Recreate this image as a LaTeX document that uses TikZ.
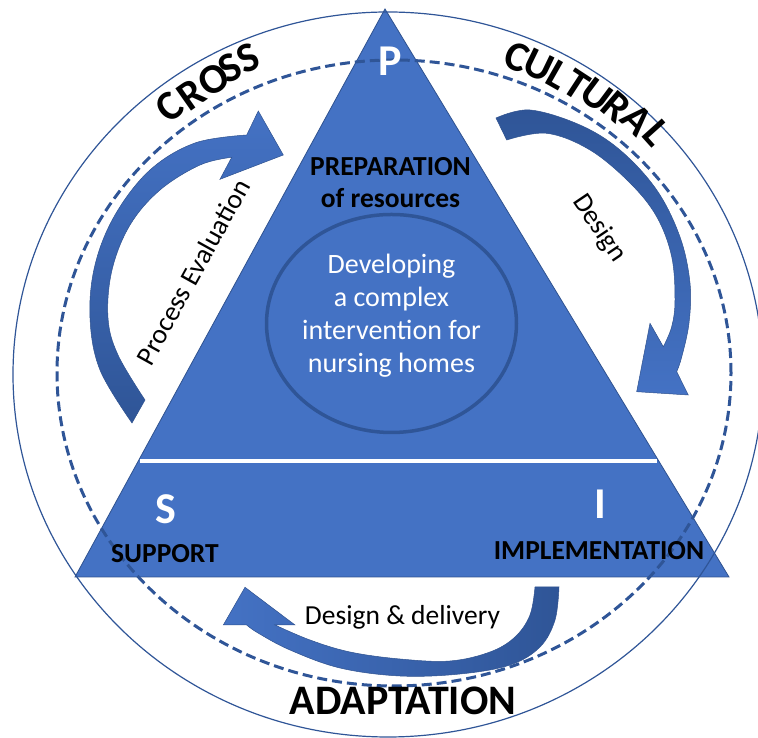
\documentclass[tikz,border=0pt]{standalone}
\usepackage{fontspec}
\setmainfont{Carlito}
\definecolor{triblue}{HTML}{4472C4}
\definecolor{darkblue}{HTML}{2F5597}
\definecolor{edgeblue}{HTML}{2F528F}
\begin{document}
\begin{tikzpicture}[x=1pt,y=1pt,
  lbl/.style={font=\fontsize{27.5}{32}\selectfont\bfseries, text=black, inner sep=0pt},
  biglbl/.style={font=\fontsize{42}{48}\selectfont\bfseries, text=black, inner sep=0pt},
  arcletter/.style={font=\fontsize{42}{48}\selectfont\bfseries, text=black, inner sep=0pt},
  initial/.style={font=\fontsize{44}{50}\selectfont\bfseries, text=white, inner sep=0pt},
  coretext/.style={font=\fontsize{28}{33}\selectfont, text=white, inner sep=0pt, align=center},
  flowtext/.style={font=\fontsize{27.5}{32}\selectfont, text=black, inner sep=0pt},
  arrowbody/.style={draw=edgeblue, line width=0.5pt}
]
\useasboundingbox (0,0) rectangle (758,738);
\clip (0,0) rectangle (758,738);

% main triangle
\path[fill=triblue, draw=edgeblue, line width=0.8pt]
  (385,729) coordinate (apex) -- (729,161) coordinate (baseR) -- (75,161) coordinate (baseL) -- cycle;

% divider
\coordinate (divL) at (140,277);
\coordinate (divR) at (657,277);
\draw[white, line width=3.5pt] (divL) -- (divR);

% inner circle
\draw[darkblue, line width=3.5pt] (391.5,414.5) ellipse [x radius=125, y radius=109];

% left arrow (Process Evaluation)
\path[arrowbody, top color=triblue, bottom color=darkblue]
  plot[smooth, tension=0.6] coordinates {(132,315) (100,368) (90,420) (95,473) (115,523) (150,568) (195,595) (246.7,603)}
  -- (258.3,627) -- (283.3,583) -- (220,558.7) -- (231.7,580.7)
  -- plot[smooth, tension=0.6] coordinates {(231.7,580.7) (200,573) (160,548) (130,513) (112,468) (108,420) (118,383) (145,338)}
  -- cycle;

% right arrow (Design)
\path[arrowbody, top color=darkblue, bottom color=triblue]
  plot[smooth, tension=0.6] coordinates {(496,620) (530,628) (580,613) (620,588) (656.7,548) (680,501) (690,455) (689,415) (681.7,381) (676.7,366.3)}
  -- (688.3,343) -- (636.7,346.3) -- (650,414.7) -- (663.3,391.3)
  -- plot[smooth, tension=0.6] coordinates {(663.3,391.3) (671.7,411.3) (675,438) (671.7,481.3) (656.7,521.3) (630,555) (590,588) (546.7,604.7) (506.7,598)}
  -- cycle;

% bottom arrow (Design & delivery)
\path[arrowbody, left color=triblue, right color=darkblue]
  plot[smooth, tension=0.6] coordinates {(559,151) (555,118) (540,91) (510,73) (460,64) (400,62) (340,70) (290,88) (258,105) (246.7,113)}
  -- (223.3,113) -- (245,150.7) -- (295,113) -- (275,113)
  -- plot[smooth, tension=0.6] coordinates {(275,113) (310,98) (350,86) (400,79) (450,77) (490,86) (515,101) (530,123) (535,151)}
  -- cycle;

% outer and dashed ellipses
\draw[darkblue, line width=1.2pt] (388,363.5) ellipse [x radius=375, y radius=362.5];
\draw[darkblue, line width=3pt, dash pattern=on 10pt off 5pt] (394,365) ellipse [x radius=337, y radius=313];

% letters
\node[initial] (P) at (390,677) {P};
\node[initial] (S) at (165.5,229) {S};
\node[initial] (I) at (600,233.5) {I};

% labels
\node[lbl, align=center] (prep) at (390.5,555) {PREPARATION\\of resources};
\node[lbl, anchor=base] (support) at (165,175) {SUPPORT};
\node[lbl, anchor=base] (impl) at (599,178.7) {IMPLEMENTATION};
\node[biglbl, anchor=base] (adapt) at (403,23) {ADAPTATION};

\node[coretext] (core) at (391.5,422) {Developing\\a complex\\intervention for\\nursing homes};

\node[flowtext, anchor=base] (deliv) at (402.5,113) {Design \& delivery};
\node[flowtext, rotate=61] (proc) at (193,466) {Process Evaluation};
\node[flowtext, rotate=-56] (design) at (599,509.7) {Design};

% curved words
\foreach \ch/\x/\y/\r [count=\i] in {C/170/631.3/39.1, R/191.7/643/35.1, O/213.3/658/30.7, S/230/669.7/27.3, S/248.3/679.7/23.8}
  \node[arcletter, rotate=\r] (cross\i) at (\x,\y) {\ch};
\foreach \ch/\x/\y/\r [count=\i] in {C/516.7/681.3/-22, U/538.3/673/-25.9, L/558.3/663/-29.6, T/576.7/653/-33.1, U/596.7/643/-36.7, R/616.7/631.3/-40.5, A/636.7/618/-44.3, L/656.7/604.7/-48.1}
  \node[arcletter, rotate=\r] (cult\i) at (\x,\y) {\ch};
\end{tikzpicture}
\end{document}
